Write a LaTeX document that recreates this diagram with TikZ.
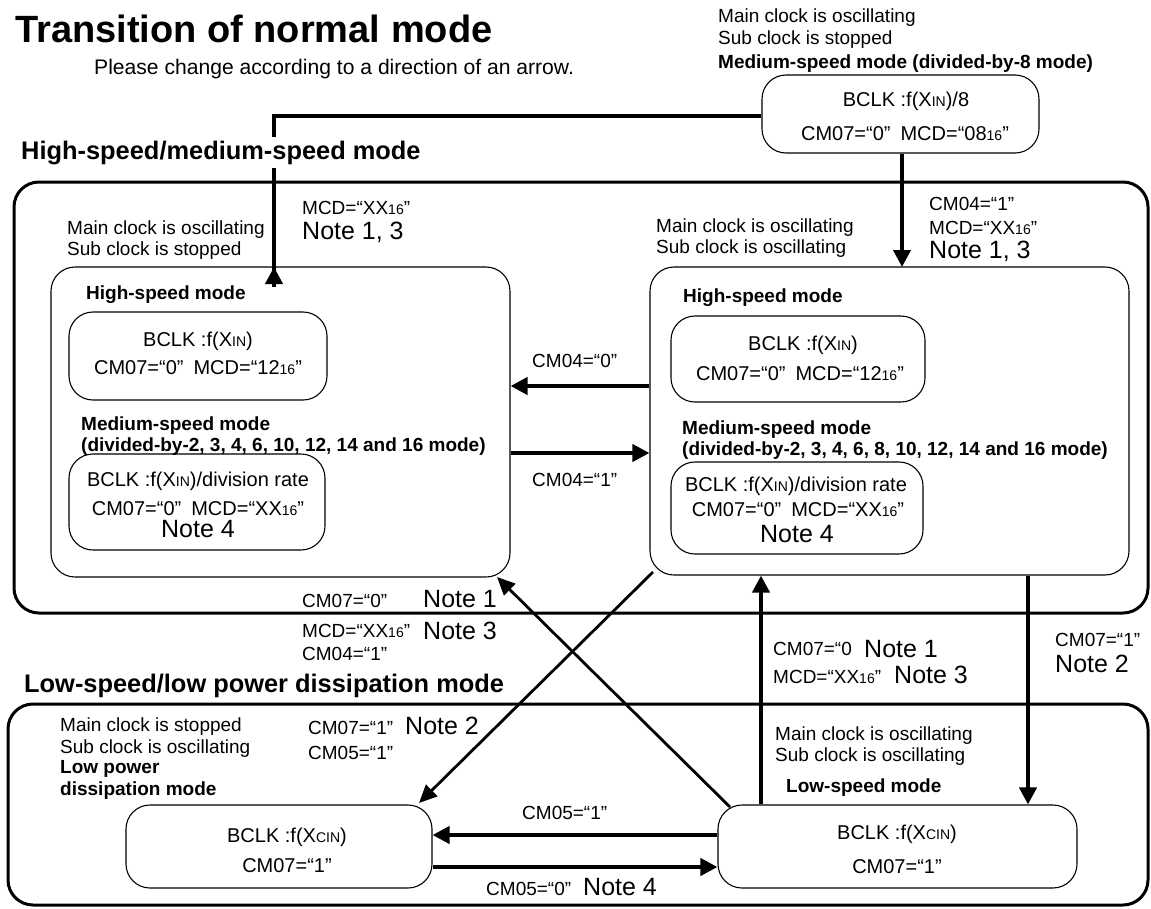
\documentclass[tikz,border=0pt]{standalone}
\usepackage{fontspec}
\setmainfont{Liberation Sans}
\usetikzlibrary{arrows.meta}
\newcommand\smx[1]{{\fontsize{14}{14}\selectfont #1}}
\begin{document}
\begin{tikzpicture}[x=1pt,y=-1pt,
  txt/.style={inner sep=0pt, anchor=base west, font=\fontsize{19}{22}\selectfont},
  btxt/.style={inner sep=0pt, anchor=base west, font=\fontsize{19}{22}\selectfont\bfseries},
  ctr/.style={inner sep=0pt, anchor=base, font=\fontsize{20}{24}\selectfont},
  note/.style={inner sep=0pt, anchor=base west, font=\fontsize{25}{28}\selectfont},
  cnote/.style={inner sep=0pt, anchor=base, font=\fontsize{25}{28}\selectfont},
  head/.style={inner xsep=2pt, inner ysep=4pt, anchor=base west, fill=white, font=\fontsize{25.4}{28}\selectfont\bfseries},
  outerframe/.style={draw, line width=3pt, rounded corners=25pt, inner sep=0pt},
  modebox/.style={draw, line width=1.1pt, rounded corners=24pt, inner sep=0pt},
  thk/.style={line width=4pt, -{Triangle[length=17pt,width=17pt]}},
  thkline/.style={line width=3.5pt},
  diag/.style={line width=2.8pt, -{Triangle[length=18pt,width=16pt]}},
]
\fill[white] (0,0) rectangle (1151,908);
\useasboundingbox (0,0) rectangle (1151,908);

% frames and boxes
\node[outerframe, minimum width=1134pt, minimum height=431pt] (HSframe) at (581,397.5) {};
\node[outerframe, minimum width=1140pt, minimum height=201pt] (LSframe) at (578,804.5) {};
\node[modebox, minimum width=277pt, minimum height=78pt] (top) at (900.5,114) {};
\node[modebox, minimum width=459pt, minimum height=310pt] (L) at (280.5,422) {};
\node[modebox, minimum width=258pt, minimum height=88pt] (Lhs) at (198,356) {};
\node[modebox, minimum width=256pt, minimum height=96pt] (Lms) at (197,502) {};
\node[modebox, minimum width=479pt, minimum height=308pt] (R) at (889.5,421) {};
\node[modebox, minimum width=254pt, minimum height=86pt] (Rhs) at (798,359) {};
\node[modebox, minimum width=252pt, minimum height=92pt] (Rms) at (797,508) {};
\node[modebox, minimum width=306pt, minimum height=83pt] (LP) at (279,846.5) {};
\node[modebox, minimum width=359pt, minimum height=83pt] (LS) at (897.5,846.5) {};

% helper coordinates
\coordinate (c1) at (274,267);
\coordinate (c2) at (902,267);
\coordinate (y116) at (0,116);
\coordinate (y386) at (0,386);
\coordinate (y453) at (0,453);
\coordinate (y835) at (0,835);
\coordinate (y867) at (0,867);
\coordinate (x761) at (761,0);
\coordinate (x1028) at (1028,0);
\coordinate (d1s) at (730,807);
\coordinate (d1e) at (497,577);
\coordinate (d2s) at (653,572);
\coordinate (d2e) at (419,803);

% connectors
\draw[thkline] (top.west |- y116) -| ([yshift=-20pt]c1);
\draw[thk] ([yshift=-20pt]c1) -- (c1);
\draw[thk] (top.south -| c2) -- (c2);
\draw[thk] (R.west |- y386) -- (L.east |- y386);
\draw[thk] (L.east |- y453) -- (R.west |- y453);
\draw[thk] (LS.north -| x761) -- (R.south -| x761);
\draw[thk] (R.south -| x1028) -- (LS.north -| x1028);
\draw[thk] (LS.west |- y835) -- (LP.east |- y835);
\draw[thk] (LP.east |- y867) -- (LS.west |- y867);
\draw[diag] (d1s) -- (d1e);
\draw[diag] (d2s) -- (d2e);

% title
\node[inner sep=0pt, anchor=base west, font=\fontsize{38}{40}\selectfont\bfseries] (title) at (15,42) {Transition of normal mode};
\node[inner sep=0pt, anchor=base west, font=\fontsize{21.1}{23}\selectfont] (sub) at (94,74) {Please change according to a direction of an arrow.};

% top box
\node[txt] (t1) at (718,22) {Main clock is oscillating};
\node[txt] (t2) at (718,44) {Sub clock is stopped};
\node[btxt] (t3) at (718,68) {Medium-speed mode (divided-by-8 mode)};
\node[ctr] (t4) at (906,106) {BCLK :f(X\smx{IN})/8};
\node[ctr] (t5) at (905,140) {CM07=“0”\hspace{0.5em}MCD=“08\smx{16}”};

% headings
\node[head] (h1) at (19,159) {High-speed/medium-speed mode};
\node[head] (h2) at (22,692) {Low-speed/low power dissipation mode};

% labels above left box
\node[txt] (a1) at (302,214) {MCD=“XX\smx{16}”};
\node[note] (a2) at (302,239) {Note 1, 3};
\node[txt] (a3) at (67,234) {Main clock is oscillating};
\node[txt] (a4) at (67,255) {Sub clock is stopped};
% labels above right box
\node[txt] (b1) at (929,210) {CM04=“1”};
\node[txt] (b2) at (929,234) {MCD=“XX\smx{16}”};
\node[note] (b3) at (929,258) {Note 1, 3};
\node[txt] (b4) at (656,232) {Main clock is oscillating};
\node[txt] (b5) at (656,253) {Sub clock is oscillating};

% left box contents
\node[btxt] (l1) at (86,299) {High-speed mode};
\node[ctr] (l2) at (198,346) {BCLK :f(X\smx{IN})};
\node[ctr] (l3) at (198,374) {CM07=“0”\hspace{0.5em}MCD=“12\smx{16}”};
\node[btxt] (l4) at (81,430) {Medium-speed mode};
\node[btxt] (l5) at (81,451) {(divided-by-2, 3, 4, 6, 10, 12, 14 and 16 mode)};
\node[ctr] (l6) at (198,486) {BCLK :f(X\smx{IN})/division rate};
\node[ctr] (l7) at (198,515) {CM07=“0”\hspace{0.5em}MCD=“XX\smx{16}”};
\node[cnote] (l8) at (198,537) {Note 4};

% right box contents
\node[btxt] (r1) at (683,302) {High-speed mode};
\node[ctr] (r2) at (803,350) {BCLK :f(X\smx{IN})};
\node[ctr] (r3) at (800,380) {CM07=“0”\hspace{0.5em}MCD=“12\smx{16}”};
\node[btxt] (r4) at (682,434) {Medium-speed mode};
\node[btxt] (r5) at (682,455) {(divided-by-2, 3, 4, 6, 8, 10, 12, 14 and 16 mode)};
\node[ctr] (r6) at (796,491) {BCLK :f(X\smx{IN})/division rate};
\node[ctr] (r7) at (798,516) {CM07=“0”\hspace{0.5em}MCD=“XX\smx{16}”};
\node[cnote] (r8) at (797,542) {Note 4};

% CM04 labels
\node[txt] (m1) at (532,367) {CM04=“0”};
\node[txt] (m2) at (532,486) {CM04=“1”};

% labels between frames
\node[txt] (n1) at (302,607) {CM07=“0”};
\node[note] (n2) at (423,607) {Note 1};
\node[txt] (n3) at (302,637) {MCD=“XX\smx{16}”};
\node[note] (n4) at (423,639) {Note 3};
\node[txt] (n5) at (302,660) {CM04=“1”};
\node[txt] (n6) at (773,655) {CM07=“0};
\node[note] (n7) at (864,657) {Note 1};
\node[txt] (n8) at (773,683) {MCD=“XX\smx{16}”};
\node[note] (n9) at (894,683) {Note 3};
\node[txt] (n10) at (1055,646) {CM07=“1”};
\node[note] (n11) at (1055,672) {Note 2};

% low frame contents
\node[txt] (p1) at (60,731) {Main clock is stopped};
\node[txt] (p2) at (60,753) {Sub clock is oscillating};
\node[btxt] (p3) at (60,773) {Low power};
\node[btxt] (p4) at (60,795) {dissipation mode};
\node[txt] (p5) at (308,734) {CM07=“1”};
\node[note] (p6) at (405,734) {Note 2};
\node[txt] (p7) at (308,759) {CM05=“1”};
\node[ctr] (p8) at (287,842) {BCLK :f(X\smx{CIN})};
\node[ctr] (p9) at (287,872) {CM07=“1”};
\node[txt] (q1) at (775,740) {Main clock is oscillating};
\node[txt] (q2) at (775,761) {Sub clock is oscillating};
\node[btxt] (q3) at (786,792) {Low-speed mode};
\node[ctr] (q4) at (897,839) {BCLK :f(X\smx{CIN})};
\node[ctr] (q5) at (897,873) {CM07=“1”};
\node[txt] (s1) at (522,819) {CM05=“1”};
\node[txt] (s2) at (486,895) {CM05=“0”};
\node[note] (s3) at (583,895) {Note 4};
\end{tikzpicture}
\end{document}
